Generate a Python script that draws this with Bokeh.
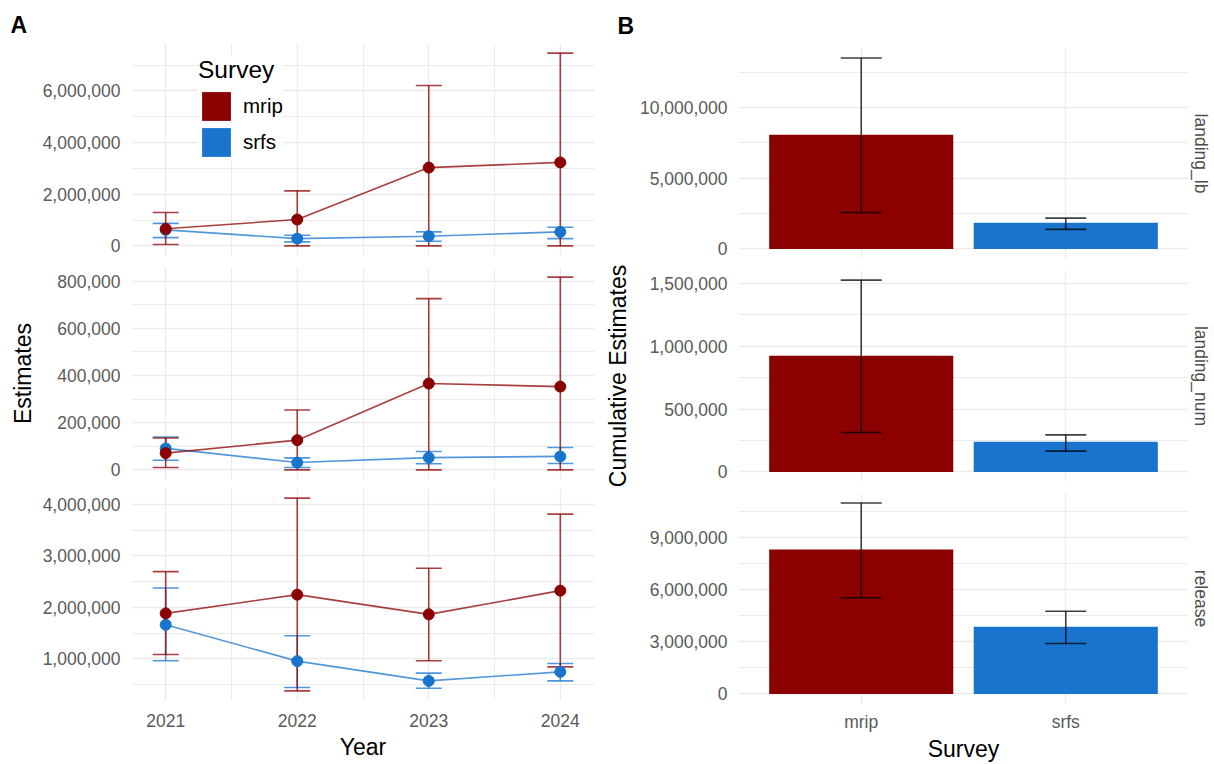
import math
from bokeh.plotting import figure
from bokeh.models import (ColumnDataSource, Range1d, FactorRange, FixedTicker,
                          NumeralTickFormatter, Whisker, TeeHead, Legend,
                          LegendItem, Title)
from bokeh.layouts import row, column
from bokeh.embed import file_html
from bokeh.resources import INLINE

FONT = "Liberation Sans"
GRID = "#EBEBEB"
TICK_COLOR = "#5A5A5A"

years = [2021, 2022, 2023, 2024]
year_minor = [2021.5, 2022.5, 2023.5]
surveys = ["mrip", "srfs"]
metrics = ["landing_lb", "landing_num", "release"]
survey_colors = ["#8B0000", "#1874CD"]

# ---- Panel A: yearly estimates (estimate, lower, upper) ----
mrip_lb_est = [660000, 1020000, 3030000, 3230000]
mrip_lb_lo = [50000, 0, 0, 0]
mrip_lb_hi = [1290000, 2130000, 6210000, 7460000]
srfs_lb_est = [620000, 280000, 375000, 540000]
srfs_lb_lo = [320000, 155000, 180000, 280000]
srfs_lb_hi = [870000, 410000, 540000, 720000]

mrip_num_est = [71000, 126000, 366000, 353000]
mrip_num_lo = [10000, 0, 0, 0]
mrip_num_hi = [135000, 254000, 726000, 817000]
srfs_num_est = [91000, 31000, 52000, 57000]
srfs_num_lo = [41000, 10000, 26000, 27000]
srfs_num_hi = [139000, 51000, 78000, 95000]

mrip_rel_est = [1883000, 2247000, 1864000, 2325000]
mrip_rel_lo = [1084000, 377000, 961000, 844000]
mrip_rel_hi = [2695000, 4123000, 2760000, 3812000]
srfs_rel_est = [1662000, 955000, 571000, 747000]
srfs_rel_lo = [961000, 442000, 429000, 571000]
srfs_rel_hi = [2377000, 1448000, 721000, 909000]

# ---- Panel B: cumulative estimates (mrip, srfs) ----
cum_lb_est = [8075000, 1855000]
cum_lb_lo = [2580000, 1385000]
cum_lb_hi = [13500000, 2180000]
cum_num_est = [924000, 239000]
cum_num_lo = [313000, 165000]
cum_num_hi = [1526000, 295000]
cum_rel_est = [8330000, 3870000]
cum_rel_lo = [5550000, 2910000]
cum_rel_hi = [11010000, 4770000]

# ---- tick labels ----
lb_ticks = [0, 2000000, 4000000, 6000000]
lb_minor = [1000000, 3000000, 5000000, 7000000]
num_ticks = [0, 200000, 400000, 600000, 800000]
num_minor = [100000, 300000, 500000, 700000]
rel_ticks = [1000000, 2000000, 3000000, 4000000]
rel_minor = [500000, 1500000, 2500000, 3500000]
cum_lb_ticks = [0, 5000000, 10000000]
cum_lb_minor = [2500000, 7500000, 12500000]
cum_num_ticks = [0, 500000, 1000000, 1500000]
cum_num_minor = [250000, 750000, 1250000]
cum_rel_ticks = [0, 3000000, 6000000, 9000000]
cum_rel_minor = [1500000, 4500000, 7500000, 10500000]

yearly = {
    "landing_lb": {"mrip": (mrip_lb_est, mrip_lb_lo, mrip_lb_hi),
                   "srfs": (srfs_lb_est, srfs_lb_lo, srfs_lb_hi),
                   "ticks": (lb_ticks, lb_minor)},
    "landing_num": {"mrip": (mrip_num_est, mrip_num_lo, mrip_num_hi),
                    "srfs": (srfs_num_est, srfs_num_lo, srfs_num_hi),
                    "ticks": (num_ticks, num_minor)},
    "release": {"mrip": (mrip_rel_est, mrip_rel_lo, mrip_rel_hi),
                "srfs": (srfs_rel_est, srfs_rel_lo, srfs_rel_hi),
                "ticks": (rel_ticks, rel_minor)},
}
cumulative = {
    "landing_lb": ((cum_lb_est, cum_lb_lo, cum_lb_hi), (cum_lb_ticks, cum_lb_minor)),
    "landing_num": ((cum_num_est, cum_num_lo, cum_num_hi), (cum_num_ticks, cum_num_minor)),
    "release": ((cum_rel_est, cum_rel_lo, cum_rel_hi), (cum_rel_ticks, cum_rel_minor)),
}


def style_y(p, major, minor):
    p.outline_line_color = None
    p.yaxis.ticker = FixedTicker(ticks=major, minor_ticks=minor)
    p.yaxis.formatter = NumeralTickFormatter(format="0,0")
    p.yaxis.axis_line_color = None
    p.yaxis.major_tick_line_color = None
    p.yaxis.minor_tick_line_color = None
    p.yaxis.major_tick_out = 0
    p.yaxis.major_tick_in = 0
    p.yaxis.minor_tick_out = 0
    p.yaxis.minor_tick_in = 0
    p.yaxis.major_label_text_font = FONT
    p.yaxis.major_label_text_font_size = "17.5px"
    p.yaxis.major_label_text_color = TICK_COLOR
    p.yaxis.major_label_standoff = 11
    p.yaxis.axis_label_text_font = FONT
    p.yaxis.axis_label_text_font_size = "23px"
    p.yaxis.axis_label_text_font_style = "normal"
    p.yaxis.axis_label_text_color = "black"
    p.ygrid.grid_line_color = GRID
    p.ygrid.grid_line_width = 1.3
    p.ygrid.minor_grid_line_color = GRID
    p.ygrid.minor_grid_line_width = 1.0
    p.xgrid.grid_line_color = GRID
    p.xgrid.grid_line_width = 1.3
    p.xgrid.minor_grid_line_color = GRID
    p.xgrid.minor_grid_line_width = 1.0


def style_x(p, label, standoff, label_standoff):
    p.xaxis.axis_line_color = None
    p.xaxis.major_tick_line_color = None
    p.xaxis.minor_tick_line_color = None
    p.xaxis.major_tick_out = 0
    p.xaxis.major_tick_in = 0
    p.xaxis.major_label_text_font = FONT
    p.xaxis.major_label_text_font_size = "17.5px"
    p.xaxis.major_label_text_color = TICK_COLOR
    p.xaxis.major_label_standoff = standoff
    p.xaxis.axis_label = label
    p.xaxis.axis_label_text_font = FONT
    p.xaxis.axis_label_text_font_size = "23px"
    p.xaxis.axis_label_text_font_style = "normal"
    p.xaxis.axis_label_text_color = "black"
    p.xaxis.axis_label_standoff = label_standoff


def panel_tag(p, text, standoff):
    p.add_layout(Title(text=text, align="left", offset=-121, standoff=standoff,
                       text_font=FONT, text_font_size="23px", text_font_style="bold",
                       text_color="black"), "above")


# ---------------- Panel A ----------------
x_lo = min(years) - 0.1
x_hi = max(years) + 0.1
x_pad = 0.05 * (x_hi - x_lo)
LEFT_W = 600
left_specs = [("landing_lb", 267, 43, 12, False, None),
              ("landing_num", 221, 0, 9, False, "Estimates"),
              ("release", 276, 0, 64, True, None)]
left_figs = []
for metric, h, top, bottom, show_x, ylab in left_specs:
    d = yearly[metric]
    all_lo = d["mrip"][0] + d["mrip"][1] + d["srfs"][0] + d["srfs"][1]
    all_hi = d["mrip"][2] + d["srfs"][2]
    lo, hi = min(all_lo), max(all_hi)
    pad = 0.05 * (hi - lo)
    p = figure(width=LEFT_W, height=h, output_backend="svg", toolbar_location=None,
               x_range=Range1d(x_lo - x_pad, x_hi + x_pad),
               y_range=Range1d(lo - pad, hi + pad),
               x_axis_location="below" if show_x else None,
               min_border_left=131, min_border_right=6,
               min_border_top=top, min_border_bottom=bottom)
    style_y(p, *d["ticks"])
    if ylab:
        p.yaxis.axis_label = ylab
        p.yaxis.axis_label_standoff = 18
    if show_x:
        p.xaxis.ticker = FixedTicker(ticks=years, minor_ticks=year_minor)
        p.xaxis.formatter = NumeralTickFormatter(format="0")
        style_x(p, "Year", 9, 4)
    else:
        p.xgrid.ticker = FixedTicker(ticks=years, minor_ticks=year_minor)

    sources = {}
    for s in surveys:
        est, elo, ehi = d[s]
        sources[s] = ColumnDataSource(dict(year=years, est=est, lo=elo, hi=ehi))
    order = ["srfs", "mrip"]
    cmap = dict(zip(surveys, survey_colors))
    for s in order:
        c = cmap[s]
        w = Whisker(source=sources[s], base="year", lower="lo", upper="hi",
                    dimension="height", line_color=c, line_width=1.6, line_alpha=0.75,
                    upper_head=TeeHead(size=26, line_color=c, line_width=1.6, line_alpha=0.75),
                    lower_head=TeeHead(size=26, line_color=c, line_width=1.6, line_alpha=0.75))
        p.add_layout(w)
    for s in order:
        p.line(x="year", y="est", source=sources[s], line_color=cmap[s],
               line_width=1.6, line_alpha=0.75)
    for s in order:
        p.scatter(x="year", y="est", source=sources[s], size=11,
                  fill_color=cmap[s], line_color=cmap[s])
    left_figs.append(p)

# legend in the top-left panel (key squares only, no plotted area)
ptop = left_figs[0]
nan = float("nan")
dummy = []
for c in survey_colors:
    dummy.append(ptop.quad(left=[nan], right=[nan], top=[nan], bottom=[nan],
                           fill_color=c, line_color=None))
legend = Legend(items=[LegendItem(label=s, renderers=[r]) for s, r in zip(surveys, dummy)],
                location=(67, 95), title="Survey",
                title_text_font=FONT, title_text_font_size="24.5px", title_text_color="black",
                title_text_font_style="normal", title_standoff=4,
                label_text_font=FONT, label_text_font_size="20.5px", label_text_color="black",
                label_standoff=9, glyph_width=36, glyph_height=36, label_height=36,
                spacing=0, padding=10, margin=0,
                background_fill_color="white", background_fill_alpha=1.0,
                border_line_color=None)
ptop.add_layout(legend)
panel_tag(ptop, "A", 12)

# ---------------- Panel B ----------------
RIGHT_W = 1214 - LEFT_W
right_specs = [("landing_lb", 258, 47, 0, False, None),
               ("landing_num", 235, 12, 12, False, "Cumulative Estimates"),
               ("release", 271, 0, 60, True, None)]
right_figs = []
for metric, h, top, bottom, show_x, ylab in right_specs:
    (est, elo, ehi), (tk, tkm) = cumulative[metric]
    hi = max(ehi)
    lo = 0
    pad = 0.05 * (hi - lo)
    p = figure(width=RIGHT_W, height=h, output_backend="svg", toolbar_location=None,
               x_range=FactorRange(factors=surveys, range_padding=0.1),
               y_range=Range1d(lo - pad, hi + pad),
               x_axis_location="below" if show_x else None,
               min_border_left=138, min_border_right=24,
               min_border_top=top, min_border_bottom=bottom)
    style_y(p, tk, tkm)
    if ylab:
        p.yaxis.axis_label = ylab
        p.yaxis.axis_label_standoff = 16
    if show_x:
        style_x(p, "Survey", 8, 1)
    src = ColumnDataSource(dict(survey=surveys, est=est, lo=elo, hi=ehi, color=survey_colors))
    p.vbar(x="survey", top="est", width=0.9, source=src, fill_color="color", line_color=None)
    p.add_layout(Whisker(source=src, base="survey", lower="lo", upper="hi",
                         dimension="height", line_color="black", line_width=1.6, line_alpha=0.75,
                         level="overlay",
                         upper_head=TeeHead(size=41, line_color="black", line_width=1.6, line_alpha=0.75),
                         lower_head=TeeHead(size=41, line_color="black", line_width=1.6, line_alpha=0.75)))
    p.add_layout(Title(text=metric, align="center", standoff=4,
                       text_font=FONT, text_font_size="17.5px", text_font_style="normal",
                       text_color="#4D4D4D"), "right")
    right_figs.append(p)

panel_tag(right_figs[0], "B", 20)

layout = row(column(*left_figs), column(*right_figs))
open("out.html", "w").write(file_html(layout, INLINE))
